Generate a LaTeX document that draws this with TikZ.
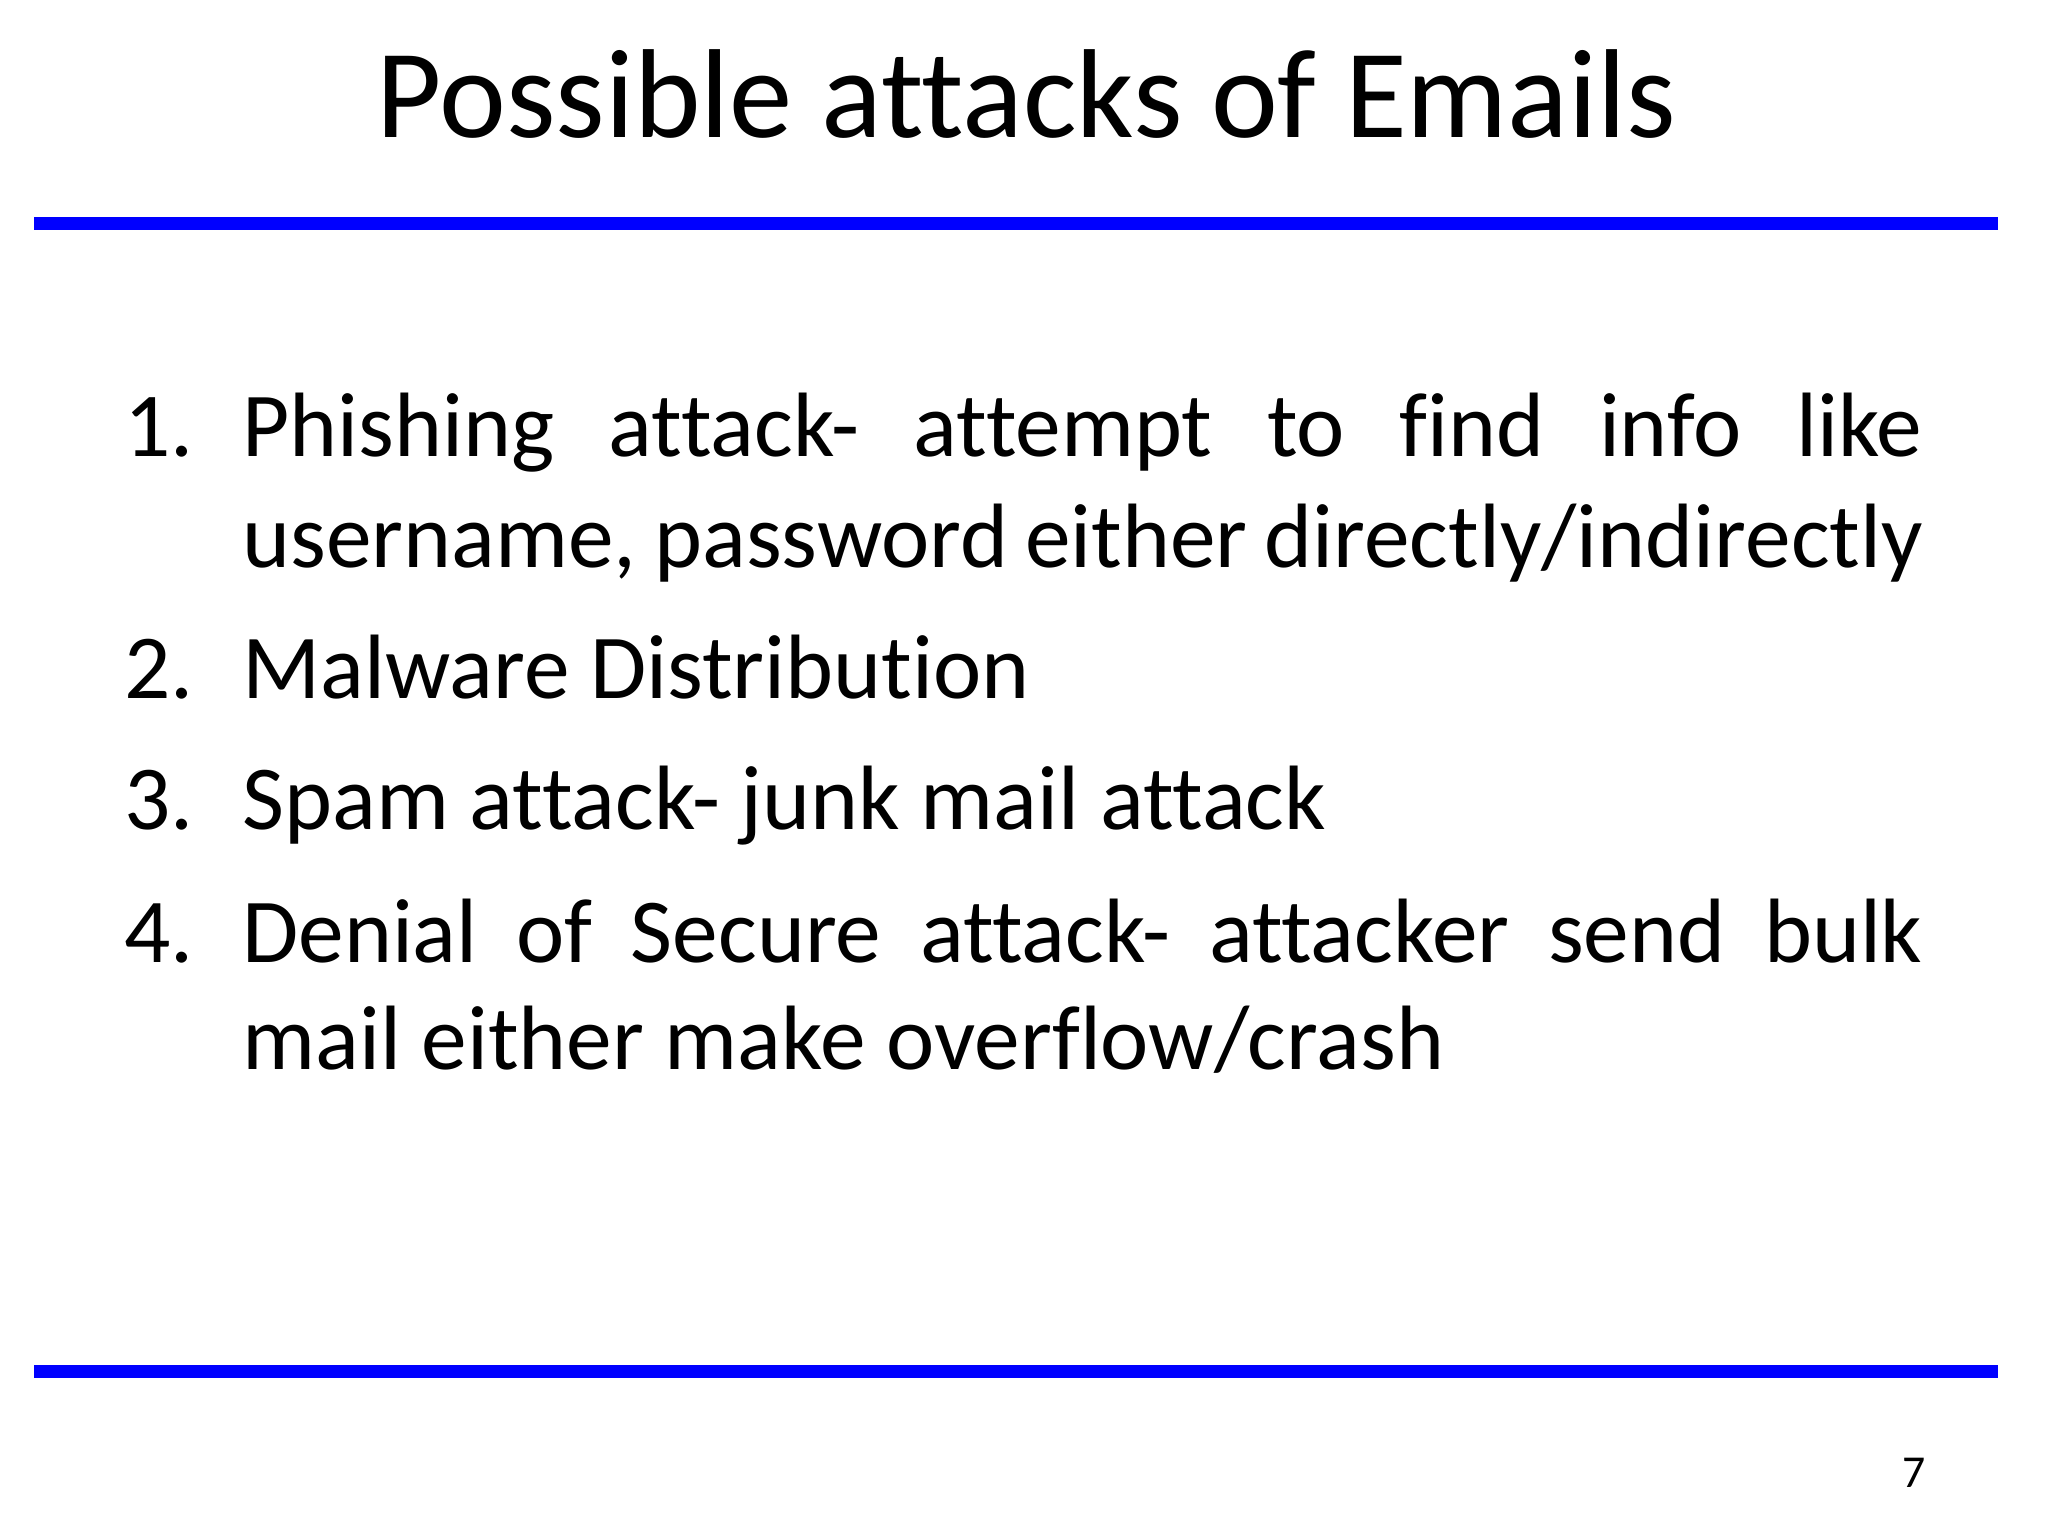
\documentclass[tikz,border=0pt]{standalone}
\usepackage{fontspec}
\setmainfont{Carlito}[RawFeature=-liga]
\begin{document}
\begin{tikzpicture}[x=0.01313cm,y=-0.01313cm,
  rule/.style={draw=blue,line width=0.13cm},
  body/.style={anchor=base west,inner sep=0pt,font=\fontsize{26}{31}\selectfont}]
\useasboundingbox (0,0) rectangle (1560,1170);
\node[anchor=base,inner sep=0pt,font=\fontsize{36}{43}\selectfont] (title) at (782,105) {Possible attacks of Emails};
\coordinate (t1) at (26,170); \coordinate (t2) at (1522,170);
\coordinate (b1) at (26,1045); \coordinate (b2) at (1522,1045);
\draw[rule] (t1) -- (t2);
\draw[rule] (b1) -- (b2);
\node[body] (n1) at (94,348) {1.};
\node[body] (l1a) at (184,348) {\makebox[1280\dimexpr0.01313cm\relax][s]{Phishing attack- attempt to find info like}};
\node[body] (l1b) at (184,432) {\makebox[1280\dimexpr0.01313cm\relax][s]{username, password either directly/indirectly}};
\node[body] (n2) at (94,532) {2.};
\node[body] (l2) at (184,532) {Malware Distribution};
\node[body] (n3) at (94,632) {3.};
\node[body] (l3) at (184,632) {Spam attack- junk mail attack};
\node[body] (n4) at (94,733) {4.};
\node[body] (l4a) at (184,733) {\makebox[1280\dimexpr0.01313cm\relax][s]{Denial of Secure attack- attacker send bulk}};
\node[body] (l4b) at (184,815) {mail either make overflow/crash};
\node[anchor=base east,inner sep=0pt,font=\fontsize{13}{15}\selectfont] (pg) at (1467,1133) {7};
\end{tikzpicture}
\end{document}
